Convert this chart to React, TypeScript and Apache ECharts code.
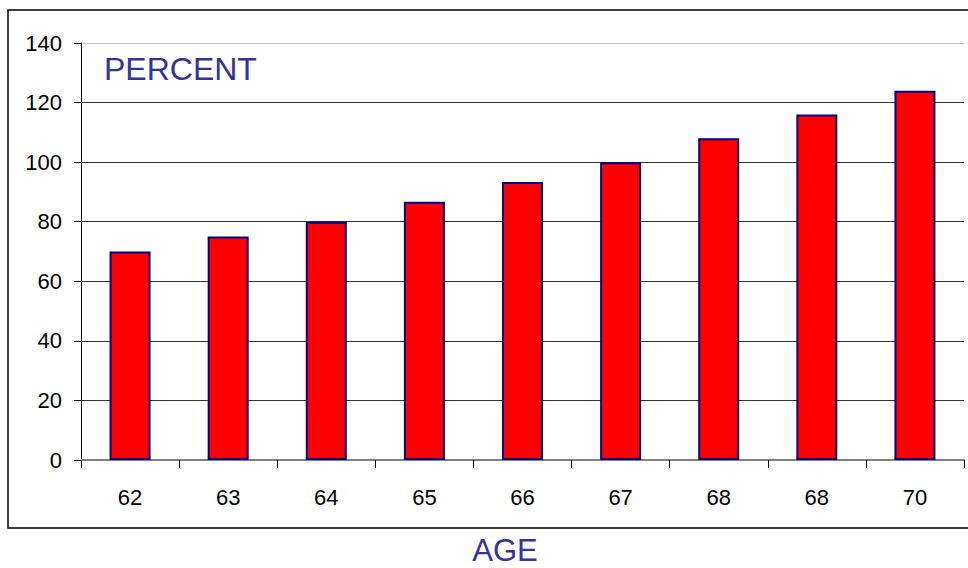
import React, { useEffect, useRef } from "react";
import * as echarts from "echarts";

const ages = ["62", "63", "64", "65", "66", "67", "68", "68", "70"];
const percents = [70, 75, 80, 86.7, 93.3, 100, 108, 116, 124];
const yTicks = { min: 0, max: 140, interval: 20 };

export default function App() {
  const ref = useRef<HTMLDivElement>(null);
  useEffect(() => {
    if (!ref.current) return;
    const chart = echarts.init(ref.current, null, { renderer: "svg" });
    chart.setOption({
      animation: false,
      backgroundColor: "#ffffff",
      textStyle: { fontFamily: "Liberation Sans, Arial, sans-serif" },
      graphic: [
        {
          type: "rect",
          shape: { x: 8, y: 10, width: 975, height: 518 },
          style: { fill: "none", stroke: "#000", lineWidth: 1.5 },
          silent: true,
        },
        {
          type: "text",
          x: 104,
          y: 69,
          style: {
            text: "PERCENT",
            fill: "#333399",
            font: "32px 'Liberation Sans', Arial, sans-serif",
            verticalAlign: "middle",
          },
        },
        {
          type: "text",
          x: 505,
          y: 550,
          style: {
            text: "AGE",
            fill: "#333399",
            font: "31px 'Liberation Sans', Arial, sans-serif",
            align: "center",
            verticalAlign: "middle",
          },
        },
      ],
      grid: { left: 81, right: 4, top: 43, bottom: 108, containLabel: false },
      xAxis: {
        type: "category",
        data: ages,
        axisLine: { lineStyle: { color: "#808080", width: 2 } },
        axisTick: { show: true, length: 8, lineStyle: { color: "#000", width: 1 } },
        axisLabel: { color: "#000", fontSize: 22, margin: 26 },
      },
      yAxis: {
        type: "value",
        min: yTicks.min,
        max: yTicks.max,
        interval: yTicks.interval,
        axisLine: { show: true, lineStyle: { color: "#000", width: 1 } },
        axisTick: { show: true, length: 7, lineStyle: { color: "#000" } },
        axisLabel: { color: "#000", fontSize: 22, margin: 19 },
        splitLine: {
          show: true,
          lineStyle: {
            color: ["#333", "#333", "#333", "#333", "#333", "#333", "#333", "#c0c0c0"],
            width: 1,
          },
        },
      },
      series: [
        {
          type: "bar",
          data: percents,
          barWidth: 41,
          itemStyle: { color: "#ff0000", borderColor: "#000080", borderWidth: 2 },
        },
      ],
    });
    return () => chart.dispose();
  }, []);
  return (
    <div
      ref={ref}
      style={{ position: "absolute", left: 0, top: 0, width: 968, height: 568 }}
    />
  );
}
